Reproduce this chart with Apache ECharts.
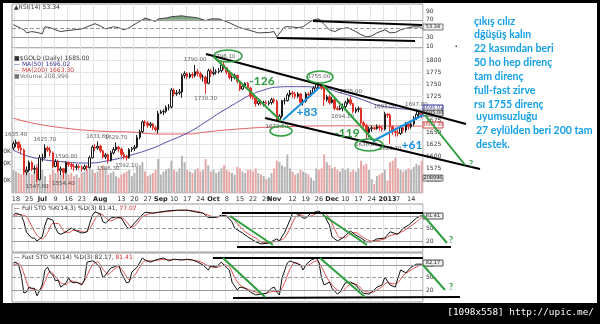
<!DOCTYPE html>
<html><head><meta charset="utf-8">
<script src="https://cdn.jsdelivr.net/npm/echarts@6/dist/echarts.min.js"></script>
<style>html,body{margin:0;padding:0;background:#fff;}#c{width:600px;height:324px;}</style>
</head><body><div id="c"></div>
<script>
// ---------- DATA ----------
const dates = [
'6/15','6/18','6/19','6/20','6/21','6/22','6/25','6/26','6/27','6/28','6/29',
'7/2','7/3','7/4','7/5','7/6','7/9','7/10','7/11','7/12','7/13','7/16','7/17','7/18','7/19','7/20','7/23','7/24','7/25','7/26','7/27','7/30','7/31',
'8/1','8/2','8/3','8/6','8/7','8/8','8/9','8/10','8/13','8/14','8/15','8/16','8/17','8/20','8/21','8/22','8/23','8/24','8/27','8/28','8/29','8/30','8/31',
'9/3','9/4','9/5','9/6','9/7','9/10','9/11','9/12','9/13','9/14','9/17','9/18','9/19','9/20','9/21','9/24','9/25','9/26','9/27','9/28',
'10/1','10/2','10/3','10/4','10/5','10/8','10/9','10/10','10/11','10/12','10/15','10/16','10/17','10/18','10/19','10/22','10/23','10/24','10/25','10/26','10/29','10/30','10/31',
'11/1','11/2','11/5','11/6','11/7','11/8','11/9','11/12','11/13','11/14','11/15','11/16','11/19','11/20','11/21','11/22','11/23','11/26','11/27','11/28','11/29','11/30',
'12/3','12/4','12/5','12/6','12/7','12/10','12/11','12/12','12/13','12/14','12/17','12/18','12/19','12/20','12/21','12/24','12/25','12/26','12/27','12/28','12/31',
'1/1','1/2','1/3','1/4','1/7','1/8','1/9','1/10','1/11','1/14','1/15','1/16','1/17','1/18'];

const tickLabels = {'6/18':'18','6/25':'25','7/2':'Jul','7/9':'9','7/16':'16','7/23':'23','8/1':'Aug','8/13':'13','8/20':'20','8/27':'27',
'9/3':'Sep','9/10':'10','9/17':'17','9/24':'24','10/1':'Oct','10/8':'8','10/15':'15','10/22':'22','10/29':'29','11/1':'Nov','11/12':'12',
'11/19':'19','11/26':'26','12/3':'Dec','12/10':'10','12/17':'17','12/24':'24','1/1':'2013','1/7':'7','1/14':'14'};
const boldLabels = ['Jul','Aug','Sep','Oct','Nov','Dec','2013'];
const weekStarts = ['6/18','6/25','7/2','7/9','7/16','7/23','7/30','8/6','8/13','8/20','8/27','9/3','9/10','9/17','9/24','10/1','10/8','10/15','10/22','10/29','11/5','11/12','11/19','11/26','12/3','12/10','12/17','12/24','12/31','1/7','1/14'];

// [open, close, low, high]
const ohlc = [
[1618,1627,1614,1632],[1627,1630,1620,1635.4],[1630,1618,1612,1632],[1618,1614,1605,1626],[1614,1568,1563,1617],
[1568,1572,1562,1580],[1572,1588,1568,1592],[1588,1574,1570,1591],[1574,1576,1565,1582],[1576,1553,1547.6,1579],
[1553,1598,1551,1604],[1598,1598,1590,1606],[1598,1618,1596,1625.7],[1618,1614,1610,1622],[1614,1608,1601,1620],
[1608,1580,1576,1611],[1580,1590,1578,1595],[1590,1572,1568,1594],[1572,1575,1562,1580],[1575,1568,1554.4,1577],
[1568,1588,1565,1590.8],[1588,1584,1579,1590],[1584,1580,1574,1588],[1580,1578,1570,1586],[1578,1580,1572,1585],
[1580,1578,1574,1584],[1578,1575,1569,1582],[1575,1580,1572,1584],[1580,1578,1571,1583],[1578,1598,1576,1602],
[1598,1620,1596,1624],[1620,1618,1612,1626],[1618,1622,1614,1631.6],[1622,1612,1608,1625],[1612,1600,1596,1614],
[1600,1604,1595,1608],[1604,1592,1586.3,1606],[1592,1608,1590,1612],[1608,1615,1605,1620],[1615,1620,1612,1629.7],
[1620,1616,1609,1622],[1616,1605,1600,1619],[1605,1600,1595,1610],[1600,1598,1592.1,1604],[1598,1615,1596,1618],
[1615,1617,1610,1620],[1617,1620,1612,1624],[1620,1640,1617,1645],[1640,1652,1636,1656],[1652,1672,1649,1675],
[1672,1670,1663,1676],[1670,1665,1660,1674],[1665,1668,1660,1672],[1668,1660,1655,1670],[1660,1656,1652,1664],
[1656,1690,1648,1695],[1690,1693,1688,1697],[1693,1694,1686,1698],[1694,1702,1690,1706],[1702,1703,1696,1709],
[1703,1738,1700,1742],[1738,1730,1725,1741],[1730,1732,1726,1738],[1732,1734,1728,1740],[1734,1768,1722,1772],
[1768,1772,1762,1777],[1772,1765,1760,1775],[1765,1770,1762,1774],[1770,1768,1762,1775],[1768,1776,1764,1790],
[1776,1772,1766,1782],[1772,1765,1760,1776],[1765,1765,1756,1770],[1765,1752,1730.3,1768],[1752,1778,1750,1782],
[1778,1772,1765,1782],[1772,1775,1768,1786],[1775,1776,1770,1781],[1776,1778,1772,1784],[1778,1790,1774,1795],
[1790,1784,1780,1796.1],[1784,1775,1770,1786],[1775,1764,1760,1778],[1764,1764,1756,1768],[1764,1768,1760,1772],
[1768,1756,1752,1770],[1756,1740,1736,1758],[1740,1746,1738,1750],[1746,1752,1744,1754],[1752,1742,1738,1755],
[1742,1725,1720,1745],[1725,1722,1718,1730],[1722,1710,1704,1726],[1710,1715,1706,1720],[1715,1712,1706,1718],
[1712,1712,1704,1716],[1712,1710,1706,1716],[1710,1712,1706,1716],[1712,1718,1708,1722],[1718,1715,1710,1722],
[1715,1676,1672.5,1718],[1676,1684,1674,1688],[1684,1716,1680,1718],[1716,1716,1708,1722],[1716,1728,1714,1732],
[1728,1732,1724,1738],[1732,1730,1722,1736],[1730,1725,1720,1734],[1725,1730,1722,1734],[1730,1712,1708,1732],
[1712,1715,1706,1720],[1715,1730,1712,1734],[1730,1728,1720,1734],[1728,1732,1724,1738],[1732,1742,1730,1746],
[1742,1750,1738,1752],[1750,1748,1742,1755],[1748,1742,1738,1750],[1742,1718,1705,1746],[1718,1724,1714,1728],
[1724,1712,1708,1728],[1712,1718,1710,1724],[1718,1700,1696,1720],[1700,1698,1696,1704],[1698,1700,1696,1706],
[1700,1704,1694.1,1710],[1704,1712,1700,1716],[1712,1718,1708,1722],[1718,1710,1706,1725],[1710,1694,1690,1712],
[1694,1698,1690,1702],[1698,1700,1692,1704],[1700,1670,1666,1702],[1670,1665,1660,1674],[1665,1650,1636,1668],
[1650,1658,1640,1662],[1658,1660,1652,1664],[1660,1658,1655,1662],[1658,1662,1656,1667],[1662,1660,1654,1666],
[1660,1657,1652,1663],[1657,1688,1654,1693],[1688,1686,1680,1690],[1686,1662,1626.7,1690],[1662,1652,1645,1665],
[1652,1650,1642,1660],[1650,1648,1642,1656],[1648,1660,1645,1664],[1660,1655,1648,1662],[1655,1668,1650,1672],
[1668,1662,1656,1672],[1662,1668,1658,1672],[1668,1680,1664,1684],[1680,1688,1676,1697.8],[1688,1690,1680,1694],
[1690,1685,1680,1694]];

// volume (thousands)
const volume = [
150,140,130,120,180,160,130,120,140,190,
200,150,110,60,120,150,130,140,120,160,
140,120,130,110,120,100,130,140,150,170,
150,130,140,160,180,160,120,130,140,110,
100,120,130,140,150,110,130,170,180,200,
140,110,120,130,150,220,120,140,150,160,
210,150,140,160,240,200,150,140,130,150,
160,140,150,220,180,140,150,130,140,160,
180,150,140,130,120,170,160,140,130,150,
150,140,160,130,120,110,90,100,130,160,
210,200,180,170,250,160,140,120,130,150,
140,130,120,100,80,160,150,160,250,200,
180,160,170,150,140,160,150,160,140,150,
140,160,210,180,190,150,90,60,110,120,
130,150,80,200,210,230,160,150,140,150,
160,150,170,190,180,209];

// [day index, value]
const ma50 = [[0,1614],[7,1599],[20,1589],[28,1587],[37,1593],[45,1604],[53,1618],[58,1630],[66,1649],[73,1672],[78,1690],[82,1703],[86,1716],[90,1728],[95,1738],[100,1744],[105,1745],[110,1745],[116,1743],[120,1740],[123,1734],[127,1728],[131,1721],[135,1713],[138,1707],[142,1703],[146,1700],[150,1698],[155,1696.02]];
const ma200 = [[0,1680],[7,1670],[20,1659],[33,1653],[45,1651],[55,1647],[66,1647],[73,1651],[82,1656],[101,1662],[126,1664],[155,1663.3]];

const rsi = [[0,58.6],[1,56],[4,47],[5,40],[7,43],[9,41],[11,38],[12,54],[14,52],[16,47],[18,43],[20,45],[23,47],[26,49],[28,54],[31,61],[33,56],[35,49],[38,54],[40,52],[42,47],[44,52],[47,63],[49,70],[50,74],[52,70],[54,66],[55,72],[58,74],[60,77],[64,79],[66,77],[68,76],[70,74],[73,68],[75,72],[78,72],[79,70],[82,63],[86,52],[89,47],[93,40],[97,41],[99,43],[100,31],[103,54],[105,54],[108,52],[110,54],[112,63],[114,70],[116,72],[118,59],[120,47],[122,43],[124,49],[127,52],[130,43],[132,36],[134,31],[136,33],[138,40],[141,47],[143,40],[145,41],[147,47],[150,52],[152,54],[155,53.34]];

const fullK = [[0,82],[1,87],[3,82],[4,66],[5,41],[7,27],[8,27],[9,20],[11,30],[12,58],[13,75],[15,70],[16,51],[17,39],[18,36],[20,42],[22,51],[24,44],[26,39],[28,42],[30,82],[31,90],[33,85],[34,66],[35,63],[37,75],[39,78],[41,75],[43,54],[44,49],[46,63],[48,77],[50,89],[53,87],[55,89],[58,92],[62,94],[66,94],[69,90],[72,87],[74,76],[77,77],[79,82],[81,80],[83,66],[84,51],[87,39],[89,30],[92,18],[94,13],[97,15],[100,25],[101,20],[103,41],[105,70],[106,87],[108,85],[110,75],[111,75],[113,87],[116,92],[118,82],[120,58],[121,30],[123,20],[125,27],[127,39],[128,44],[130,34],[132,27],[134,18],[136,18],[138,25],[141,27],[143,42],[146,36],[148,51],[150,58],[153,75],[155,81.41]];
const fullD = [[0,78],[2,84],[5,78],[7,55],[9,34],[11,25],[13,40],[15,62],[17,62],[19,45],[21,40],[23,46],[25,45],[27,41],[29,50],[31,72],[33,86],[35,76],[37,68],[39,74],[41,76],[43,66],[45,53],[47,62],[49,78],[52,86],[56,89],[60,92],[64,94],[68,93],[71,89],[74,82],[77,77],[80,80],[83,76],[85,62],[87,48],[89,38],[92,27],[95,16],[98,17],[101,21],[103,28],[105,50],[107,76],[109,83],[111,78],[113,80],[116,88],[118,88],[120,75],[122,48],[124,28],[126,28],[128,38],[130,40],[132,32],[134,24],[136,20],[138,21],[141,25],[143,33],[146,38],[148,44],[150,52],[153,66],[155,77.07]];

const fastK = [[0,85],[1,87],[2,80],[3,56],[4,13],[5,15],[6,27],[7,24],[8,24],[9,6],[11,32],[12,68],[13,75],[14,61],[15,56],[16,42],[17,44],[18,27],[19,32],[20,37],[21,49],[22,39],[23,37],[24,39],[26,32],[27,44],[28,87],[30,90],[31,87],[33,73],[34,49],[35,56],[37,73],[38,75],[40,80],[41,61],[43,37],[44,39],[45,63],[47,75],[49,97],[50,92],[52,87],[54,92],[55,94],[57,97],[59,90],[61,94],[64,92],[66,94],[68,92],[70,87],[72,80],[74,68],[75,78],[77,75],[79,87],[80,80],[82,68],[83,39],[85,20],[86,27],[88,24],[90,15],[92,8],[94,10],[96,12],[98,24],[99,27],[100,15],[101,8],[102,49],[104,85],[105,90],[107,85],[109,80],[110,68],[111,80],[113,92],[115,97],[116,87],[117,49],[118,32],[120,39],[121,24],[123,10],[124,15],[126,37],[128,39],[130,32],[131,24],[133,12],[135,10],[137,20],[138,27],[140,32],[141,51],[143,32],[145,27],[146,49],[147,68],[149,61],[151,75],[153,82],[155,82.17]];
const fastD = [[0,80],[2,84],[4,60],[6,25],[8,22],[10,18],[12,40],[14,65],[16,52],[18,38],[20,33],[22,42],[24,38],[26,36],[28,55],[30,80],[32,88],[34,70],[36,58],[38,68],[40,76],[42,62],[44,45],[46,55],[48,75],[50,90],[53,90],[56,93],[60,93],[64,93],[68,92],[71,88],[74,78],[77,74],[80,80],[82,76],[84,50],[86,32],[89,22],[92,15],[95,11],[98,16],[101,17],[103,38],[105,70],[107,86],[110,78],[112,80],[115,90],[117,75],[119,50],[121,32],[123,20],[125,18],[127,30],[129,36],[131,30],[133,18],[136,14],[138,20],[140,28],[142,38],[144,35],[146,38],[148,55],[150,64],[152,72],[155,81.41]];

// candle annotations [day index, price, side]
const candleNotes = [[1,1635.4,'top'],[12,1625.7,'top'],[9,1547.6,'bottom'],[19,1554.4,'bottom'],[20,1590.8,'top'],[32,1631.6,'top'],[36,1586.3,'bottom'],[39,1629.7,'top'],[43,1592.1,'bottom'],[69,1790,'top'],[73,1730.3,'bottom'],[80,1796.1,'top'],[100,1672.5,'bottom'],[116,1755,'top'],[125,1694.1,'bottom'],[128,1725,'top'],[134,1636,'bottom'],[141,1693,'top'],[143,1626.7,'bottom'],[153,1697.8,'top']];

const noteLines = ['çıkış cılız','dğüşüş kalın','22 kasımdan beri','50 ho hep direnç','tam direnç','full-fast zirve','rsı 1755 direnç','uyumsuzluğu','27 eylülden beri 200 tam','destek.'];

// ---------- CHART ----------
const chart = echarts.init(document.getElementById('c'));
const F = '"DejaVu Sans"';
const GL = 12, GR = 177;
const gridLine = '#e4e4e4';
const lvl = '#9a9a9a';

function xAx(g, showLabel, showSplit){
  return {type:'category', data:dates, gridIndex:g, boundaryGap:true,
    axisLine:{show:false}, axisTick:{show:false},
    axisLabel:{show:showLabel, interval:(i,v)=>tickLabels[v]!==undefined, margin:3,
      formatter:(v)=>{const t=tickLabels[v]; return boldLabels.indexOf(t)>=0?'{b|'+t+'}':t;},
      fontFamily:'DejaVu Sans', fontSize:6.5, color:'#333', rich:{b:{fontWeight:'bold', fontSize:6.5, fontFamily:'DejaVu Sans', color:'#222'}}},
    splitLine:{show:showSplit, interval:(i,v)=>weekStarts.indexOf(v)>=0, lineStyle:{color:gridLine, width:1}}};
}
function levels(vals){
  return {silent:true, symbol:'none', label:{show:false},
    data: vals.map(v=>({yAxis:v, lineStyle:{color:lvl, width:1, type: v===50?'dashed':'solid'}}))};
}
const axLbl = {fontFamily:'DejaVu Sans', fontSize:6, color:'#333', margin:3, formatter:(v)=>String(v)};

const upCol = '#ffffff', dnCol = '#e0302a';

const G = '#2e9e3e', B = '#1a90e0';
function line(x1,y1,x2,y2,c,w){return {type:'line', shape:{x1,y1,x2,y2}, style:{stroke:c, lineWidth:w||2}, z:60};}
function ell(cx,cy,rx,ry){return {type:'ellipse', shape:{cx,cy,rx,ry}, style:{fill:null, stroke:G, lineWidth:1.5}, z:60};}
function txt(x,y,t,font,fill,align){return {type:'text', x, y, style:{text:t, font, fill, align:align||'left', verticalAlign:'middle'}, z:60};}
function box(y,t,stroke,fill,tc){return {type:'group', z:55, children:[
  {type:'rect', shape:{x:423,y:y-3,width:20,height:6}, style:{fill:fill, stroke:stroke, lineWidth:1}, z:55},
  {type:'text', x:433, y:y, style:{text:t, font:'5px '+F, fill:tc||'#222', align:'center', verticalAlign:'middle'}, z:56}]};}

const graphics = [
  // headers
  {type:'text', x:14, y:7, z:50, style:{text:'▲RSI(14) 53.34', font:'6px '+F, fill:'#333', verticalAlign:'middle'}},
  {type:'text', x:14, y:58, z:50, style:{text:'■$GOLD (Daily) 1685.00', font:'6px '+F, fill:'#333', verticalAlign:'middle'}},
  {type:'text', x:14, y:64, z:50, style:{text:'— MA(50) 1696.02', font:'6px '+F, fill:'#3a3a9a', verticalAlign:'middle'}},
  {type:'text', x:14, y:70, z:50, style:{text:'— MA(200) 1663.30', font:'6px '+F, fill:'#d04040', verticalAlign:'middle'}},
  {type:'text', x:14, y:76, z:50, style:{text:'■Volume 208,996', font:'6px '+F, fill:'#777', verticalAlign:'middle'}},
  {type:'text', x:14, y:208, z:50, style:{text:'{k|— Full STO %K(14,3) %D(3) 81.41,} {r|77.07}', font:'6px '+F, verticalAlign:'middle', rich:{k:{fill:'#333', font:'6px '+F}, r:{fill:'#d03030', font:'6px '+F}}}},
  {type:'text', x:14, y:257, z:50, style:{text:'{k|— Fast STO %K(14) %D(3) 82.17,} {r|81.41}', font:'6px '+F, verticalAlign:'middle', rich:{k:{fill:'#333', font:'6px '+F}, r:{fill:'#d03030', font:'6px '+F}}}},
  // value boxes
  box(27,'53.34','#777','#eee'),
  box(108,'1696.02','#3a3a9a','#fff','#3a3a9a'),
  box(113,'1685.00','#555','#ddd'),
  box(125,'1663.30','#d04040','#fff','#d04040'),
  box(178,'208996','#777','#ddd'),
  box(216,'81.41','#555','#eee'),
  box(263,'82.17','#555','#eee'),
  // volume axis labels (cut by frame)
  txt(11,151,'80K','6px '+F,'#333','right'),
  txt(11,163,'60K','6px '+F,'#333','right'),
  txt(11,180,'40K','6px '+F,'#333','right'),
  // black channel lines
  line(313,21,422,25,'#000'), line(277,38,415,41,'#000'),
  line(206,54,466,124,'#000'), line(265,118,480,169,'#000'),
  line(222,213,423,213,'#000'), line(237,247,451,247,'#000'),
  line(213,258,423,258,'#000'), line(233,298,460,297,'#000'),
  // green down lines
  line(214,57,281,121,G), line(322,84,375,142,G), line(425,115,465,165,G),
  line(230,216,273,245,G), line(323,215,367,245,G), line(423,215,447,243,G),
  line(223,258,265,297,G), line(320,258,365,297,G), line(423,265,445,290,G),
  // blue up lines
  line(283,120,320,87,B), line(373,141,423,115,B),
  // ellipses
  ell(228,56,14,6), ell(320,77,13,6), ell(281,131,11,5), ell(369,145,14,6),
  // numbers
  txt(262,81,'-126','bold 12px Lato',G,'center'),
  txt(307,112,'+83','bold 12px Lato',B,'center'),
  txt(347,133,'-119','bold 12px Lato',G,'center'),
  txt(412,145,'+61','bold 12px Lato',B,'center'),
  txt(469,164,'?','bold 9px Lato',G,'left'),
  txt(449,240,'?','bold 9px Lato',G,'left'),
  txt(449,287,'?','bold 9px Lato',G,'left'),
  txt(455,44,'.','bold 10px Lato','#000','left'),
  // frame
  {type:'rect', z:100, shape:{x:0,y:0,width:600,height:3}, style:{fill:'#000'}},
  {type:'rect', z:100, shape:{x:0,y:0,width:3,height:324}, style:{fill:'#000'}},
  {type:'rect', z:100, shape:{x:597,y:0,width:3,height:324}, style:{fill:'#000'}},
  {type:'rect', z:100, shape:{x:0,y:303,width:600,height:21}, style:{fill:'#000'}},
  {type:'text', z:101, x:594, y:313, style:{text:'[1098x558] http://upic.me/', font:'9.4px "DejaVu Sans Mono"', fill:'#fff', align:'right', verticalAlign:'middle'}}
];
noteLines.forEach((t,i)=>{
  const ys=[22,35,49,63,77,91,105,117,131,145];
  graphics.push(txt(i>=7?476:474, ys[i], t, 'bold 10.5px Lato', '#14a0e6', 'left'));
});

const option = {
  animation:false,
  backgroundColor:'#fff',
  grid:[
    {left:GL, right:GR, top:4, height:44, show:true, borderColor:'#999', borderWidth:1},
    {left:GL, right:GR, top:48, height:145, show:true, borderColor:'#999', borderWidth:1},
    {left:GL, right:GR, top:153, height:40},
    {left:GL, right:GR, top:204, height:48, show:true, borderColor:'#999', borderWidth:1},
    {left:GL, right:GR, top:253, height:49, show:true, borderColor:'#999', borderWidth:1}
  ],
  xAxis:[xAx(0,false,true), xAx(1,true,true), xAx(2,false,false), xAx(3,false,true), xAx(4,false,true)],
  yAxis:[
    {type:'value', gridIndex:0, position:'right', min:5.5, max:106, splitLine:{show:false}, axisLine:{show:false}, axisTick:{show:false}, axisLabel:Object.assign({customValues:[10,30,50,70,90]}, axLbl)},
    {type:'value', gridIndex:1, position:'right', min:1525, max:1825, interval:25, splitLine:{show:true, lineStyle:{color:gridLine}}, axisLine:{show:false}, axisTick:{show:false}, axisLabel:Object.assign({customValues:[1550,1575,1600,1625,1650,1675,1700,1725,1750,1775,1800]}, axLbl)},
    {type:'value', gridIndex:2, position:'left', min:0, max:260, splitLine:{show:false}, axisLine:{show:false}, axisTick:{show:false}, axisLabel:{show:false}},
    {type:'value', gridIndex:3, position:'right', min:-6.5, max:108.9, splitLine:{show:false}, axisLine:{show:false}, axisTick:{show:false}, axisLabel:Object.assign({customValues:[20,50,80]}, axLbl)},
    {type:'value', gridIndex:4, position:'right', min:-8.9, max:108.9, splitLine:{show:false}, axisLine:{show:false}, axisTick:{show:false}, axisLabel:Object.assign({customValues:[20,50,80]}, axLbl)}
  ],
  series:[
    {name:'rsiBase', type:'line', xAxisIndex:0, yAxisIndex:0, stack:'rsi', symbol:'none', lineStyle:{opacity:0}, data:rsi.map(p=>[p[0],70]), markLine:levels([30,50,70])},
    {name:'rsiFill', type:'line', xAxisIndex:0, yAxisIndex:0, stack:'rsi', symbol:'none', lineStyle:{opacity:0}, areaStyle:{color:'#6f9a72', opacity:0.9}, data:rsi.map(p=>[p[0],Math.max(0,p[1]-70)])},
    {name:'RSI', type:'line', xAxisIndex:0, yAxisIndex:0, symbol:'none', lineStyle:{color:'#444', width:1}, data:rsi},
    {name:'Volume', type:'bar', xAxisIndex:2, yAxisIndex:2, barWidth:2, z:1,
      data:volume.map((v,i)=>({value:v, itemStyle:{color: ohlc[i][1]<ohlc[i][0] ? '#e8a7a7' : '#b4b4b4'}}))},
    {name:'MA200', type:'line', xAxisIndex:1, yAxisIndex:1, symbol:'none', smooth:true, lineStyle:{color:'#e06060', width:1}, data:ma200, z:3},
    {name:'MA50', type:'line', xAxisIndex:1, yAxisIndex:1, symbol:'none', smooth:true, lineStyle:{color:'#4a4aa8', width:1}, data:ma50, z:3},
    {name:'GOLD', type:'candlestick', xAxisIndex:1, yAxisIndex:1, barWidth:2, z:4, data:ohlc,
      itemStyle:{color:upCol, color0:dnCol, borderColor:'#1a1a1a', borderColor0:dnCol, borderWidth:1}},
    {name:'notes', type:'scatter', xAxisIndex:1, yAxisIndex:1, symbolSize:0, z:5, silent:true,
      data:candleNotes.map(n=>({value:[n[0],n[1]], label:{show:true, position:n[2], distance:2, formatter:n[1].toFixed(2), fontFamily:'DejaVu Sans', fontSize:5.5, color:'#333'}}))},
    {name:'fullK', type:'line', xAxisIndex:3, yAxisIndex:3, symbol:'none', lineStyle:{color:'#111', width:1}, data:fullK, z:3, markLine:levels([20,50,80])},
    {name:'fullD', type:'line', xAxisIndex:3, yAxisIndex:3, symbol:'none', smooth:0.3, lineStyle:{color:'#e05050', width:1}, data:fullD, z:2},
    {name:'fastK', type:'line', xAxisIndex:4, yAxisIndex:4, symbol:'none', lineStyle:{color:'#111', width:1}, data:fastK, z:3, markLine:levels([20,50,80])},
    {name:'fastD', type:'line', xAxisIndex:4, yAxisIndex:4, symbol:'none', smooth:0.3, lineStyle:{color:'#e05050', width:1}, data:fastD, z:2}
  ],
  graphic: graphics
};
chart.setOption(option);
</script></body></html>
